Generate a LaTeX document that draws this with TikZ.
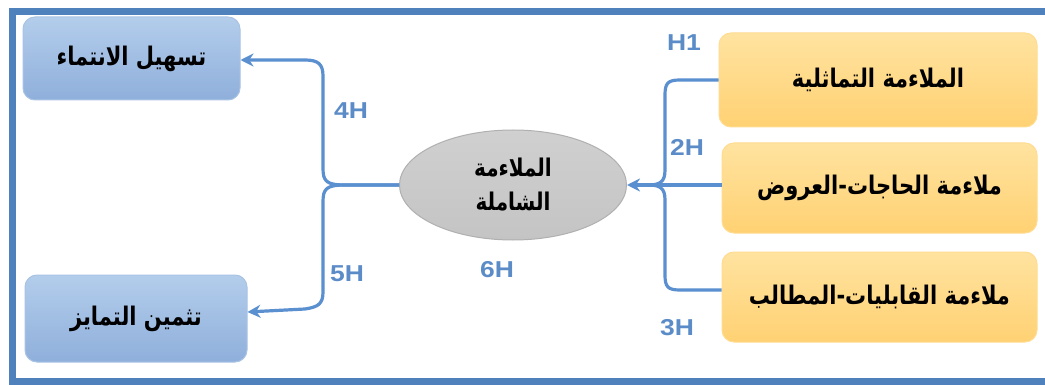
\documentclass[tikz,border=0pt]{standalone}
\usepackage{fontspec}
\TeXXeTstate=1
\newfontfamily\arabicfont[Script=Arabic]{DejaVu Sans}
\newfontfamily\labfont[FakeStretch=1.15]{Liberation Sans}
\usetikzlibrary{shapes.geometric,arrows.meta}
\newcommand{\artxt}[1]{\scalebox{1}[1.22]{\beginR #1\endR}}
\definecolor{frameblue}{HTML}{4F81BD}
\definecolor{lineblue}{HTML}{5A8FD0}
\definecolor{labblue}{HTML}{5B8CC8}
\definecolor{bluetop}{HTML}{B3CDEB}
\definecolor{bluebot}{HTML}{8FAFDB}
\definecolor{blueedge}{HTML}{A9C3E5}
\definecolor{orgtop}{HTML}{FFE3A0}
\definecolor{orgbot}{HTML}{FFD173}
\definecolor{orgedge}{HTML}{FFDC90}
\definecolor{grayfill}{HTML}{C4C4C4}
\definecolor{grayedge}{HTML}{B0B0B0}
\tikzset{
  bluebox/.style={draw=blueedge, line width=1pt, rounded corners=12pt, top color=bluetop, bottom color=bluebot, align=center},
  orgbox/.style={draw=orgedge, line width=1pt, rounded corners=12pt, top color=orgtop, bottom color=orgbot, align=center},
  midell/.style={ellipse, draw=grayedge, line width=1pt, top color=grayfill!80!white, bottom color=grayfill, align=center, inner sep=0pt},
  boxtext/.style={font=\arabicfont\bfseries\fontsize{21}{24}\selectfont},
  hlabel/.style={font=\labfont\bfseries\fontsize{23}{26}\selectfont, text=labblue},
  conn/.style={draw=lineblue, line width=3.2pt, line join=round},
  arr/.style={conn, -{Stealth[length=13pt,width=13pt]}}
}
\begin{document}
\begin{tikzpicture}[x=1pt,y=-1pt]
\useasboundingbox (0,0) rectangle (1045,385);
\fill[white] (0,0) rectangle (1045,385);
\begin{scope}
\clip (0,0) rectangle (1045,385);
\draw[frameblue, line width=7pt] (12.5,11.5) rectangle (1052,381.5);
\end{scope}

% left boxes
\node[bluebox, minimum width=217pt, minimum height=83pt, boxtext] (lt) at (131.5,58.5) {\artxt{تسهيل الانتماء}};
\node[bluebox, minimum width=222pt, minimum height=87pt, boxtext] (lb) at (136,318.5) {\artxt{تثمين التمايز}};

% right boxes
\node[orgbox, minimum width=318pt, minimum height=94pt, boxtext] (rt) at (878,80) {\artxt{الملاءمة التماثلية}};
\node[orgbox, minimum width=315pt, minimum height=90pt, boxtext] (rm) at (879.5,188) {\artxt{ملاءمة الحاجات-العروض}};
\node[orgbox, minimum width=315pt, minimum height=90pt, boxtext] (rb) at (879.5,297) {\artxt{ملاءمة القابليات-المطالب}};

% centre ellipse
\node[midell, minimum width=227pt, minimum height=110pt, font=\arabicfont\bfseries\fontsize{20}{34}\selectfont] (ell) at (513,185) {\artxt{الملاءمة}\\\artxt{الشاملة}};

% left connectors
\draw[arr] (ell.west) -- (345,185) .. controls (326,185) and (323,181) .. (323,168) -- (323,76) .. controls (323,64) and (318,60) .. (305,60) -- ([yshift=-1.5pt]lt.east);
\draw[arr] (ell.west) -- (345,185) .. controls (326,185) and (323,189) .. (323,202) -- (323,292) .. controls (323,304) and (318,307) .. (305,309) -- ([yshift=6.5pt]lb.east);

% right connectors
\draw[conn] (rt.west) -- (680,80) .. controls (668,80) and (665,83) .. (665,95) -- (665,170) .. controls (665,182) and (660,185) .. (648,185);
\draw[conn] ([yshift=7pt]rb.west) -- (680,290) .. controls (668,290) and (665,287) .. (665,275) -- (665,200) .. controls (665,188) and (660,185) .. (648,185);
\draw[arr] ([yshift=3pt]rm.west) -- (ell.east);

% labels
\node[hlabel] (h1) at (684,43) {H1};
\node[hlabel] (h2) at (687,147) {2H};
\node[hlabel] (h3) at (677,328) {3H};
\node[hlabel] (h4) at (351,111) {4H};
\node[hlabel] (h5) at (347,274) {5H};
\node[hlabel] (h6) at (497,270) {6H};
\end{tikzpicture}
\end{document}
